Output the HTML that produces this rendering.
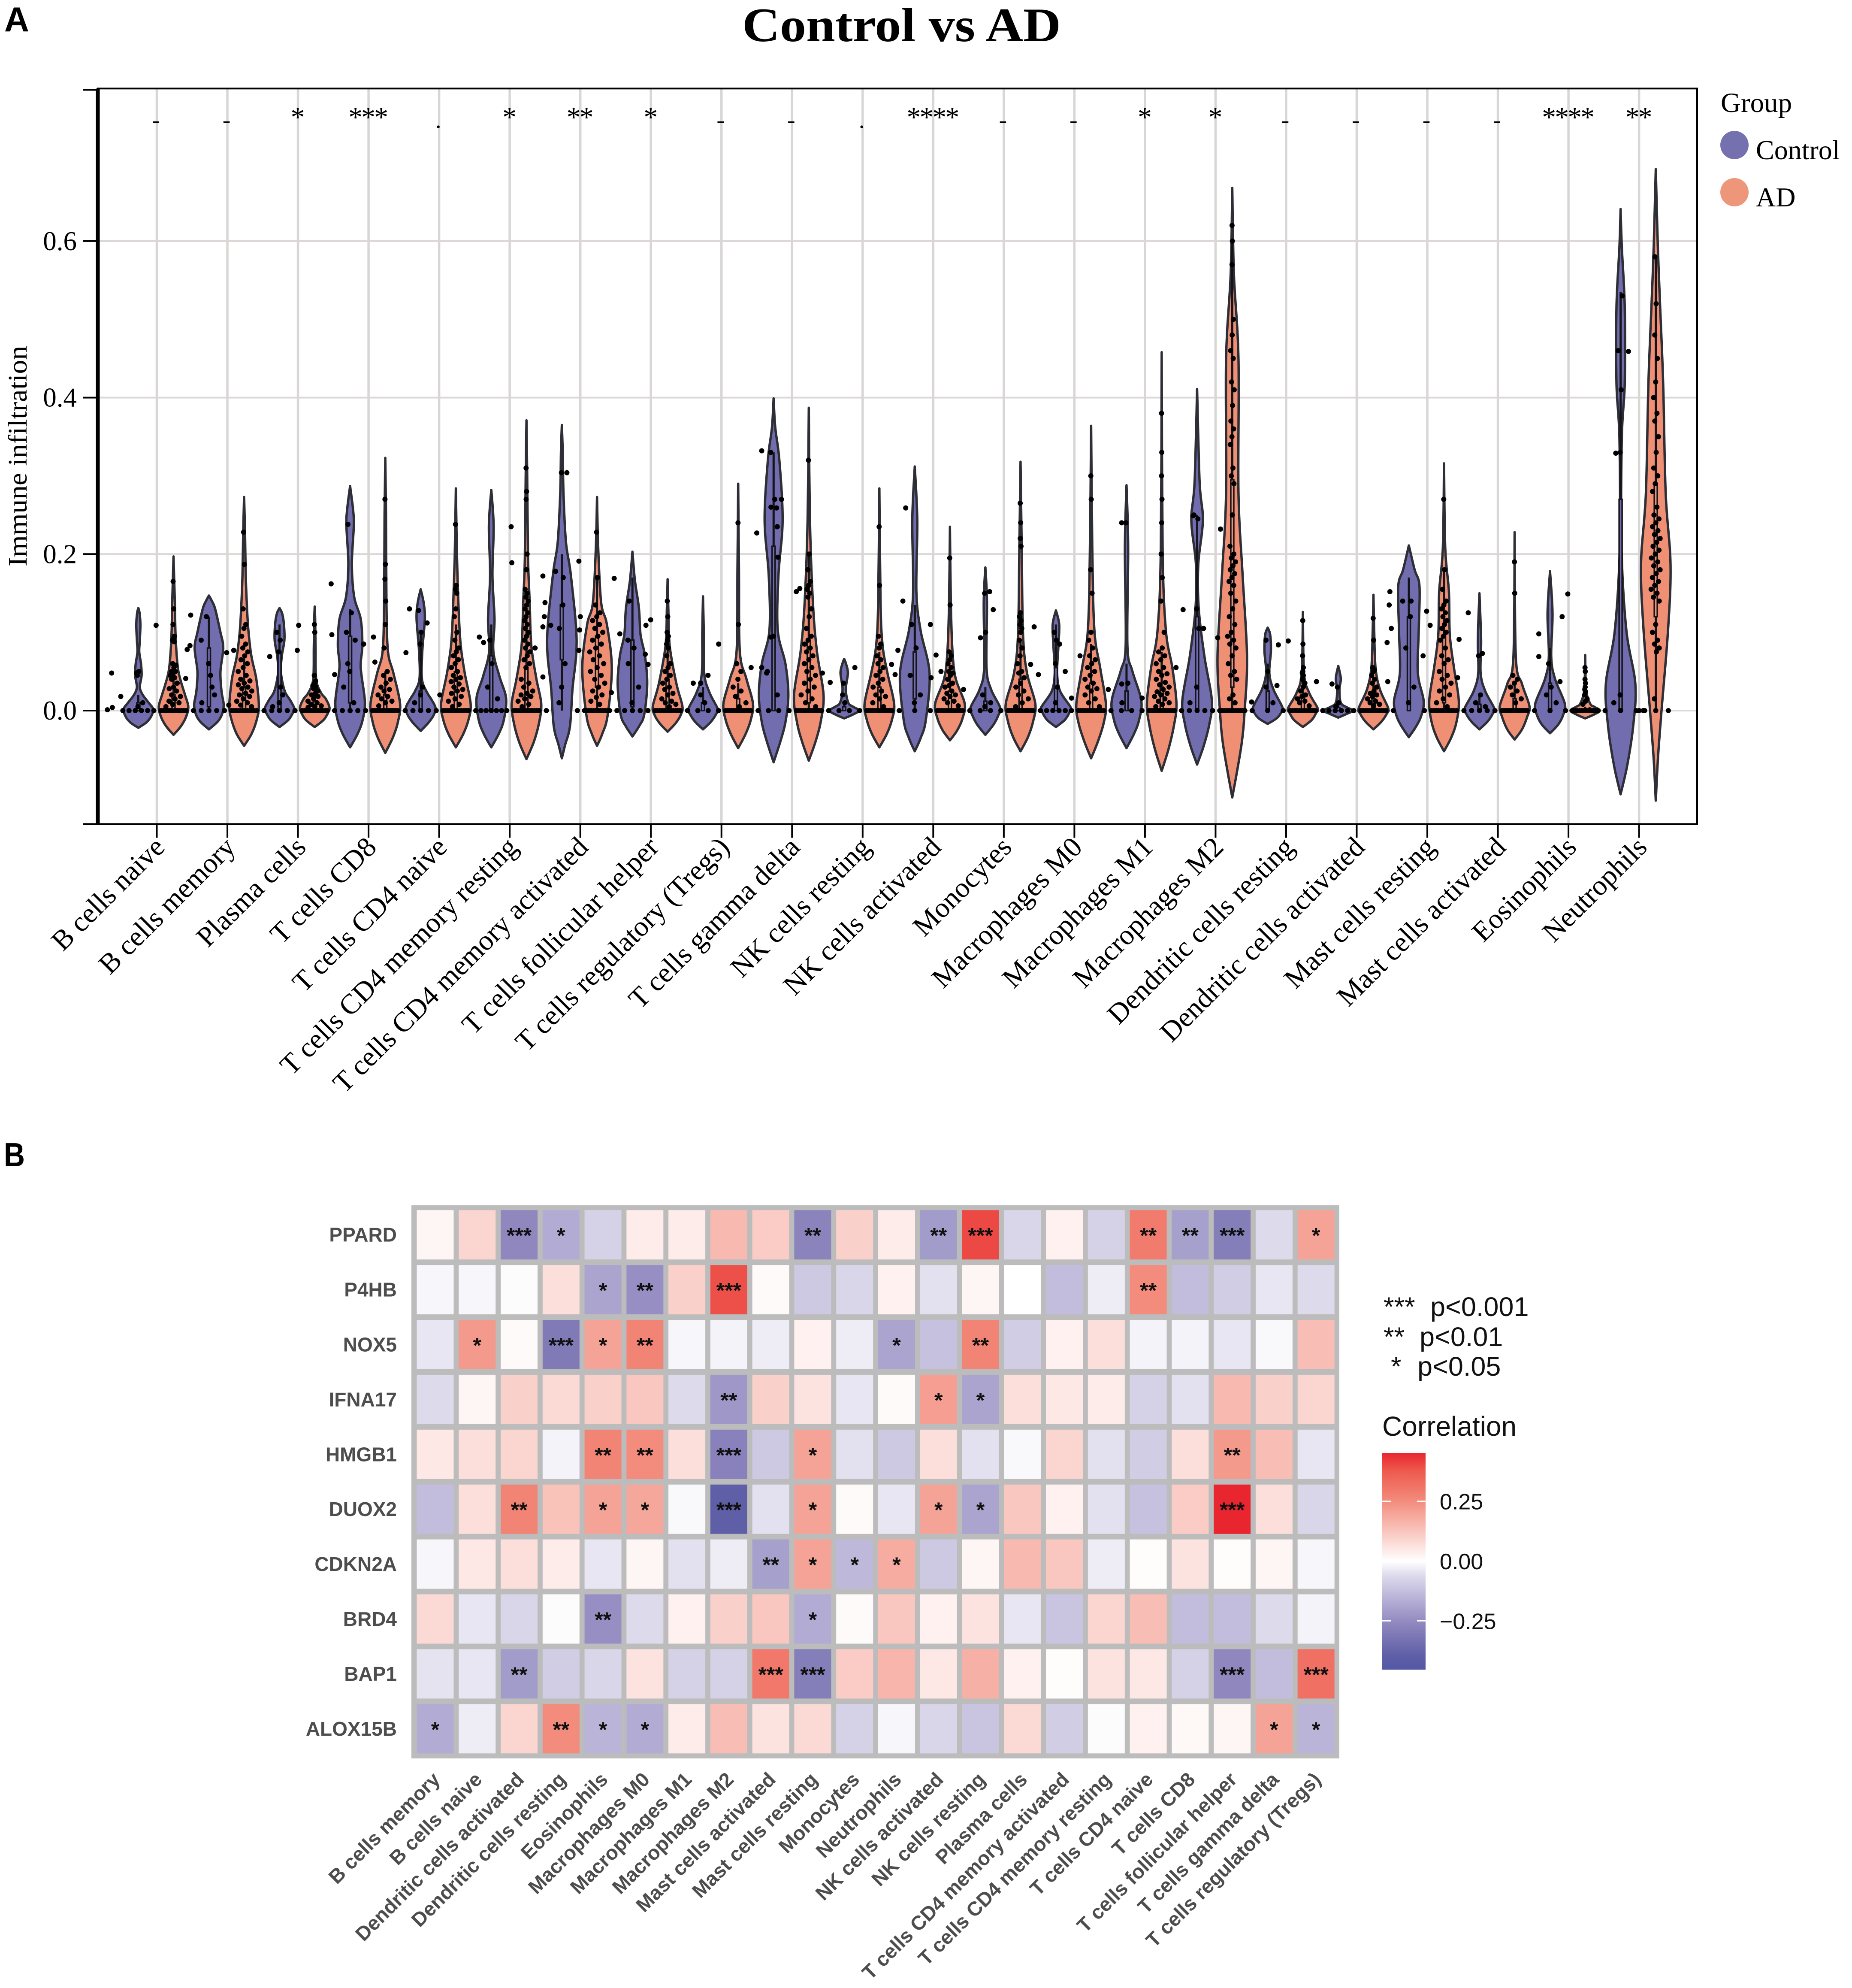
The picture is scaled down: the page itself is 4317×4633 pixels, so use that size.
<!DOCTYPE html>
<html lang="en">
<head>
<meta charset="utf-8">
<title>Control vs AD immune infiltration and correlation heatmap</title>
<style>
html,body{margin:0;padding:0;background:#fff;}
svg{display:block;}
.serif{font-family:"Liberation Serif",serif;}
.sans{font-family:"Liberation Sans",sans-serif;}
</style>
</head>
<body>
<svg id="figure" xmlns="http://www.w3.org/2000/svg" width="4317" height="4633" viewBox="0 0 4317 4633">
  <defs>
    <linearGradient id="corrGradient" x1="0" y1="1" x2="0" y2="0"></linearGradient>
  </defs>
  <rect x="0" y="0" width="4317" height="4633" fill="#ffffff"/>
  <text class="sans" x="10" y="73" font-size="81" font-weight="bold" textLength="58" lengthAdjust="spacingAndGlyphs">A</text>
  <text class="serif" x="1730" y="96" font-size="112" font-weight="bold" textLength="743" lengthAdjust="spacingAndGlyphs">Control vs AD</text>
  <g id="violinPanel"></g>
  <text class="serif" transform="translate(62,1063) rotate(-90)" text-anchor="middle" font-size="62" textLength="514" lengthAdjust="spacingAndGlyphs">Immune infiltration</text>
  <g class="serif">
    <text x="4011" y="261" font-size="65">Group</text>
    <circle cx="4043" cy="338" r="33" fill="#7571ae"/>
    <text x="4093" y="371" font-size="64">Control</text>
    <circle cx="4043" cy="448" r="33" fill="#ee967a"/>
    <text x="4093" y="481" font-size="64">AD</text>
  </g>
  <text class="sans" x="9" y="2718" font-size="78" font-weight="bold" textLength="49" lengthAdjust="spacingAndGlyphs">B</text>
  <g id="heatPanel"></g>
  <g class="sans" font-size="63" fill="#111">
    <text x="3225" y="3067">***</text>
    <text x="3334" y="3067">p&lt;0.001</text>
    <text x="3225" y="3137">**</text>
    <text x="3309" y="3137">p&lt;0.01</text>
    <text x="3242" y="3206">*</text>
    <text x="3304" y="3206">p&lt;0.05</text>
  </g>
  <g class="sans" fill="#111">
    <text x="3222" y="3346" font-size="64">Correlation</text>
    <rect x="3222" y="3386" width="101" height="505" fill="url(#corrGradient)"/>
    <g id="colorbarTicks"></g>
  </g>
</svg>
<script>
/* ---------- Panel A data ---------- */
const categories = ["B cells naive","B cells memory","Plasma cells","T cells CD8","T cells CD4 naive","T cells CD4 memory resting","T cells CD4 memory activated","T cells follicular helper","T cells regulatory (Tregs)","T cells gamma delta","NK cells resting","NK cells activated","Monocytes","Macrophages M0","Macrophages M1","Macrophages M2","Dendritic cells resting","Dendritic cells activated","Mast cells resting","Mast cells activated","Eosinophils","Neutrophils"];
const significance = ["-","-","*","***",".","*","**","*","-","-",".","****","-","-","*","*","-","-","-","-","****","**"];
const yTickValues = [-0.145,0,0.2,0.4,0.6,0.795];
const yTickLabels = ["","0.0","0.2","0.4","0.6",""];

/* density profiles: [immune infiltration, relative width] */
const densityControl = [
[[-.022,0],[-.015,.55],[-.007,.88],[.002,1],[.01,.7],[.02,.3],[.03,.1],[.045,.22],[.06,.18],[.075,.06],[.09,.1],[.11,.14],[.125,.08],[.131,0]],
[[-.024,0],[-.014,.6],[-.004,.9],[.008,1],[.025,.85],[.05,.78],[.08,.97],[.1,.78],[.13,.42],[.14,.2],[.147,0]],
[[-.021,0],[-.012,.6],[-.003,.9],[.003,1],[.014,.7],[.025,.35],[.048,.1],[.069,.15],[.09,.33],[.11,.3],[.124,.18],[.131,0]],
[[-.047,0],[-.03,.5],[-.012,.85],[.012,1],[.055,.72],[.083,.83],[.117,.72],[.145,.28],[.187,.12],[.236,.25],[.257,.2],[.287,0]],
[[-.026,0],[-.015,.55],[-.005,.9],[.004,1],[.015,.7],[.025,.38],[.041,.08],[.076,.11],[.117,.28],[.138,.2],[.155,0]],
[[-.047,0],[-.03,.5],[-.012,.85],[.016,1],[.044,.55],[.076,.14],[.117,.22],[.173,.08],[.236,.16],[.282,0]],
[[-.061,0],[-.044,.22],[-.02,.55],[.027,.72],[.09,1],[.173,.61],[.215,.28],[.278,.11],[.33,.06],[.365,0]],
[[-.033,0],[-.02,.45],[-.005,.8],[.034,1],[.07,.85],[.097,.55],[.131,.44],[.166,.17],[.203,0]],
[[-.024,0],[-.014,.55],[-.004,.9],[.002,1],[.023,.44],[.048,.08],[.1,.05],[.146,0]],
[[-.066,0],[-.04,.45],[-.015,.8],[.02,1],[.06,.8],[.103,.28],[.173,.33],[.243,.61],[.32,.39],[.362,.11],[.399,0]],
[[-.01,0],[-.005,.6],[0,1],[.005,.6],[.01,.28],[.027,.11],[.048,.25],[.06,.12],[.066,0]],
[[-.052,0],[-.035,.4],[-.012,.75],[.048,1],[.103,.39],[.152,.11],[.243,.17],[.312,0]],
[[-.031,0],[-.018,.55],[-.006,.88],[.004,1],[.027,.39],[.055,.08],[.138,.11],[.183,0]],
[[-.021,0],[-.012,.6],[-.003,.9],[.004,1],[.025,.28],[.048,.08],[.083,.17],[.11,.22],[.128,0]],
[[-.048,0],[-.03,.5],[-.012,.85],[.013,1],[.051,.39],[.083,.06],[.208,.11],[.288,0]],
[[-.069,0],[-.045,.45],[-.018,.82],[.013,1],[.069,.5],[.131,.11],[.187,.08],[.243,.39],[.292,.17],[.411,0]],
[[-.017,0],[-.01,.6],[-.003,.9],[.004,1],[.027,.39],[.048,.11],[.076,.22],[.097,.17],[.106,0]],
[[-.009,0],[-.004,.6],[0,1],[.004,.6],[.01,.17],[.027,.08],[.041,.17],[.057,0]],
[[-.034,0],[-.02,.5],[-.006,.85],[.013,1],[.048,.61],[.103,.67],[.159,.72],[.18,.39],[.211,0]],
[[-.024,0],[-.014,.55],[-.004,.9],[.003,1],[.025,.39],[.048,.08],[.09,.11],[.15,0]],
[[-.029,0],[-.018,.55],[-.006,.88],[.009,1],[.041,.33],[.069,.08],[.124,.17],[.178,0]],
[[-.107,0],[-.07,.45],[-.02,.85],[.034,1],[.103,.39],[.208,.06],[.348,.08],[.418,.28],[.516,.28],[.593,.08],[.641,0]]
];
const densityAD = [
[[-.031,0],[-.02,.5],[-.008,.85],[.005,1],[.02,.78],[.034,.55],[.05,.33],[.069,.22],[.1,.13],[.138,.09],[.17,.04],[.197,0]],
[[-.045,0],[-.03,.5],[-.012,.85],[.006,1],[.04,.83],[.069,.5],[.1,.3],[.13,.2],[.173,.11],[.23,.06],[.273,0]],
[[-.021,0],[-.012,.6],[-.003,.9],[.004,1],[.015,.75],[.023,.42],[.04,.1],[.08,.06],[.117,.03],[.133,0]],
[[-.054,0],[-.035,.5],[-.015,.85],[.009,1],[.048,.55],[.076,.18],[.138,.08],[.25,.05],[.323,0]],
[[-.047,0],[-.03,.5],[-.012,.85],[.009,1],[.048,.6],[.083,.33],[.124,.2],[.194,.08],[.284,0]],
[[-.062,0],[-.04,.5],[-.016,.85],[.009,1],[.041,.67],[.083,.33],[.138,.22],[.194,.11],[.3,.05],[.371,0]],
[[-.045,0],[-.03,.35],[-.006,.72],[.055,1],[.11,.67],[.138,.28],[.208,.08],[.273,0]],
[[-.027,0],[-.016,.55],[-.005,.9],[.006,1],[.034,.6],[.083,.14],[.13,.05],[.168,0]],
[[-.048,0],[-.03,.5],[-.012,.85],[.009,1],[.041,.55],[.076,.11],[.18,.05],[.29,0]],
[[-.064,0],[-.04,.45],[-.015,.8],[.02,1],[.076,.55],[.138,.28],[.243,.08],[.387,0]],
[[-.047,0],[-.03,.5],[-.012,.85],[.009,1],[.048,.55],[.083,.22],[.138,.08],[.284,0]],
[[-.038,0],[-.025,.5],[-.01,.85],[.009,1],[.041,.39],[.076,.17],[.138,.06],[.235,0]],
[[-.052,0],[-.034,.5],[-.014,.85],[.009,1],[.048,.44],[.097,.17],[.208,.08],[.318,0]],
[[-.061,0],[-.04,.45],[-.016,.85],[.009,1],[.055,.61],[.103,.22],[.208,.08],[.364,0]],
[[-.077,0],[-.05,.45],[-.02,.82],[.009,1],[.055,.72],[.103,.28],[.208,.06],[.458,0]],
[[-.111,0],[-.08,.3],[-.04,.65],[-.002,.83],[.069,1],[.173,.7],[.278,.42],[.45,.42],[.558,.11],[.668,0]],
[[-.021,0],[-.012,.6],[-.003,.9],[.003,1],[.023,.42],[.048,.08],[.126,0]],
[[-.024,0],[-.014,.55],[-.004,.9],[.003,1],[.027,.44],[.055,.14],[.103,.05],[.148,0]],
[[-.052,0],[-.034,.5],[-.014,.85],[.013,1],[.055,.67],[.097,.39],[.152,.33],[.208,.08],[.316,0]],
[[-.037,0],[-.024,.5],[-.008,.85],[.006,1],[.034,.5],[.069,.08],[.228,0]],
[[-.01,0],[-.005,.6],[0,1],[.005,.6],[.009,.33],[.027,.06],[.071,0]],
[[-.115,0],[-.06,.15],[0,.39],[.103,.83],[.187,1],[.278,.67],[.418,.5],[.523,.28],[.593,.14],[.692,0]]
];
/* box summaries: [q1, q3, upper whisker] */
const boxControl = [[0,.01,.02],[.005,.08,.12],[0,.075,.11],[.01,.095,.13],[0,.025,.1],[0,.07,.11],[.065,.135,.2],[.005,.09,.17],[0,.01,.03],[0,.21,.33],[0,.005,.01],[.015,.075,.135],[0,.012,.03],[0,.055,.11],[0,.025,.06],[0,.12,.25],[0,.025,.06],[0,.004,.01],[0,.12,.17],[0,.008,.02],[0,.035,.08],[0,.27,.535]];
const boxAD = [[0,.02,.05],[0,.03,.07],[0,.012,.03],[0,.02,.05],[0,.05,.11],[0,.055,.13],[.03,.095,.17],[0,.04,.09],[0,.015,.035],[.01,.09,.2],[0,.03,.075],[0,.025,.055],[0,.04,.09],[0,.035,.085],[0,.03,.075],[.03,.295,.6],[0,.02,.05],[0,.015,.04],[.01,.095,.18],[0,.015,.035],[0,.002,.005],[.12,.29,.58]];
/* samples read above zero, per violin */
const samplesControl = [
[.048,.05,.045,.01,.005],[.09,.045,.12,.02,.06,.01,.03],[.1,.09,.075,.02,.01,.005,.03],[.238,.125,.1,.09,.05,.03,.01,.06],[.128,.1,.085,.03,.02,.01],[.09,.06,.03,.015],[.304,.135,.105,.06,.03,.01,.17],[.14,.08,.06,.03,.01,.09],[.035,.01,.02],[.33,.27,.26,.235,.095,.05,.02],[.02,.01,.035],[.11,.08,.045,.02,.01],[.15,.1,.02,.01,.005],[.1,.09,.06,.03,.01],[.24,.035,.01],[.25,.245,.13,.105,.03,.01],[.09,.05,.03,.01],[.03,.01,.005],[.14,.12,.08,.03,.01],[.07,.02,.01,.005],[.06,.03,.02,.01],[.46,.41,.33,.53,.02,.01]
];
const samplesAD = [
[.165,.13,.11,.095,.092,.09,.088,.06,.058,.055,.05,.05,.047,.045,.042,.04,.035,.03,.028,.025,.02,.018,.015,.012,.01,.008,.005],
[.228,.187,.13,.11,.105,.095,.085,.08,.075,.07,.065,.06,.055,.05,.045,.04,.038,.035,.033,.03,.028,.025,.022,.02,.018,.015,.012,.01,.007,.005],
[.11,.1,.045,.038,.035,.032,.03,.028,.025,.022,.02,.018,.015,.012,.01,.008,.006,.005,.004],
[.27,.187,.168,.14,.11,.08,.05,.045,.04,.035,.03,.027,.025,.02,.018,.015,.012,.01,.006],
[.238,.16,.155,.15,.13,.12,.1,.09,.08,.075,.07,.065,.06,.055,.05,.045,.042,.04,.037,.034,.03,.027,.025,.022,.018,.015,.012,.008,.005],
[.31,.28,.27,.2,.18,.155,.15,.145,.14,.135,.13,.125,.12,.115,.11,.105,.1,.095,.09,.085,.08,.075,.07,.065,.06,.055,.04,.035,.03,.025,.022,.02,.018,.015,.012,.008,.005],
[.228,.17,.135,.125,.12,.115,.11,.105,.1,.095,.09,.085,.08,.075,.07,.065,.06,.055,.05,.045,.04,.035,.03,.025,.02,.017,.012,.008],
[.14,.12,.1,.095,.09,.085,.08,.07,.06,.055,.05,.045,.04,.035,.03,.027,.022,.02,.015,.012,.01,.008,.005],
[.24,.11,.06,.05,.04,.03,.025,.018,.01,.005],
[.32,.2,.18,.165,.16,.155,.15,.145,.13,.12,.105,.095,.09,.085,.08,.075,.07,.065,.06,.055,.05,.045,.04,.035,.03,.025,.02,.015,.01,.005],
[.235,.16,.095,.085,.08,.07,.065,.06,.055,.05,.045,.04,.035,.03,.025,.02,.018,.015,.01,.005],
[.195,.135,.075,.07,.065,.06,.055,.05,.048,.045,.04,.035,.032,.03,.025,.022,.02,.018,.015,.012,.01,.006],
[.265,.24,.22,.21,.125,.12,.115,.11,.105,.1,.09,.08,.07,.06,.05,.048,.042,.035,.03,.025,.02,.015,.01,.005],
[.3,.27,.18,.15,.1,.09,.08,.07,.065,.06,.055,.05,.045,.04,.035,.03,.028,.025,.02,.015,.01,.005],
[.38,.33,.3,.27,.24,.2,.17,.14,.1,.08,.075,.07,.065,.06,.055,.05,.047,.045,.04,.036,.033,.03,.027,.024,.022,.02,.018,.015,.012,.01,.008,.005],
[.62,.6,.57,.5,.48,.46,.45,.42,.41,.39,.37,.36,.35,.34,.31,.3,.29,.25,.21,.2,.195,.19,.185,.18,.175,.17,.165,.16,.15,.14,.13,.12,.11,.1,.095,.09,.085,.08,.07,.06,.05,.045,.04,.02,.015,.01],
[.115,.085,.07,.055,.05,.048,.045,.04,.035,.03,.025,.02,.018,.015,.012,.01,.006],
[.118,.09,.055,.052,.05,.045,.04,.035,.03,.025,.022,.02,.018,.015,.012,.01,.008,.006],
[.27,.18,.155,.14,.135,.13,.125,.12,.115,.11,.105,.1,.095,.09,.08,.07,.065,.06,.05,.045,.04,.035,.03,.025,.02,.015,.01,.005],
[.19,.15,.045,.04,.035,.03,.025,.02,.015,.01],
[.055,.05,.04,.035,.03,.027,.024,.02,.015,.012,.008],
[.58,.52,.48,.45,.42,.4,.38,.37,.35,.33,.31,.3,.29,.28,.26,.25,.245,.24,.235,.23,.225,.22,.215,.21,.205,.2,.195,.19,.185,.18,.175,.17,.165,.16,.155,.15,.145,.14,.11,.1,.09,.085,.08,.075,.015]
];
/* how many samples sit at exactly zero */
const zeroCountControl = [6,5,5,5,5,7,2,5,4,4,4,3,4,6,4,5,3,6,2,5,3,3];
const zeroCountAD = [12,12,12,14,12,12,12,12,14,12,14,12,14,12,14,12,12,12,12,14,12,3];
/* far-jittered samples: [category position, value] */
const strayPoints = [[-.7,.001],[-.63,.004],[-.64,.048],[-.51,.018],[-.01,.109],[.48,.122],[.47,.083],[.43,.078],[.41,.041],[.99,.074],[1.09,.077],[1.02,.007],[1.6,.069],[1.99,.077],[2.01,.109],[2.47,.162],[2.48,.097],[2.52,.046],[2.93,.085],[3.07,.094],[3.09,.062],[3.53,.074],[3.58,.13],[3.83,.112],[4.01,.02],[4.57,.094],[4.63,.087],[5.02,.235],[5.03,.189],[5.47,.172],[5.5,.138],[5.49,.12],[5.47,.107],[5.58,.109],[5.65,.178],[5.81,.304],[5.98,.191],[6,.12],[5.99,.103],[5.98,.077],[5.47,.043],[5.36,.08],[6.48,.169],[6.56,.098],[6.44,.023],[6.997,.116],[6.93,.109],[6.92,.072],[6.96,.059],[7.6,.035],[7.81,.045],[7.96,.085],[8.42,.055],[8.57,.055],[8.5,.227],[8.57,.332],[8.85,.27],[8.78,.259],[8.79,.235],[8.8,.196],[8.7,.094],[8.64,.048],[9.06,.152],[9.11,.156],[9.43,.048],[9.54,.036],[9.89,.055],[10.41,.059],[10.46,.046],[10.5,.077],[10.57,.14],[10.61,.259],[10.96,.11],[11.04,.071],[11.11,.05],[10.97,.042],[11.43,.027],[11.67,.093],[11.8,.152],[11.85,.129],[12.43,.107],[12.38,.059],[12.49,.046],[12.79,.085],[12.87,.05],[12.96,.016],[13.08,.07],[13.48,.027],[13.67,.24],[13.67,.034],[13.96,.016],[14.44,.055],[14.54,.129],[14.68,.249],[14.83,.105],[15.07,.232],[15.03,.093],[15.51,.011],[15.89,.084],[15.87,.032],[16.03,.089],[16.43,.037],[16.65,.034],[17.47,.152],[17.46,.135],[17.49,.105],[17.43,.087],[17.44,.037],[17.77,.14],[17.99,.127],[18.04,.109],[17.94,.07],[18.45,.091],[18.43,.042],[18.58,.125],[18.78,.073],[19.58,.098],[19.58,.069],[19.99,.149],[19.91,.12],[19.88,.037],[20.85,.459],[20.67,.329],[21,0],[21.08,0],[20.3,.001]];

/* ---------- Panel B data ---------- */
const heatRows = ["PPARD","P4HB","NOX5","IFNA17","HMGB1","DUOX2","CDKN2A","BRD4","BAP1","ALOX15B"];
const heatCols = ["B cells memory","B cells naive","Dendritic cells activated","Dendritic cells resting","Eosinophils","Macrophages M0","Macrophages M1","Macrophages M2","Mast cells activated","Mast cells resting","Monocytes","Neutrophils","NK cells activated","NK cells resting","Plasma cells","T cells CD4 memory activated","T cells CD4 memory resting","T cells CD4 naive","T cells CD8","T cells follicular helper","T cells gamma delta","T cells regulatory (Tregs)"];
const corrPPARD  = [.02,.09,-.26,-.17,-.08,.04,.04,.15,.11,-.27,.1,.04,-.21,.4,-.07,.03,-.08,.29,-.2,-.29,-.06,.2];
const corrP4HB   = [-.015,-.015,-.005,.07,-.19,-.24,.1,.39,.01,-.1,-.07,.03,-.05,.02,0,-.13,-.03,.25,-.13,-.09,-.04,-.06];
const corrNOX5   = [-.04,.22,.01,-.3,.2,.27,-.015,-.02,-.03,.03,-.03,-.19,-.12,.27,-.09,.03,.07,-.02,-.02,-.04,-.01,.14];
const corrIFNA17 = [-.06,.02,.1,.08,.1,.12,-.06,-.22,.1,.06,-.04,.01,.21,-.19,.07,.05,.04,-.08,-.05,.15,.1,.09];
const corrHMGB1  = [.05,.07,.09,-.02,.27,.25,.07,-.28,-.1,.2,-.05,-.1,.07,-.05,-.01,.09,-.05,-.09,.07,.22,.14,-.04];
const corrDUOX2  = [-.13,.07,.27,.13,.2,.19,-.01,-.39,-.05,.2,.01,-.04,.2,-.19,.12,.03,-.05,-.12,.11,.45,.07,-.07];
const corrCDKN2A = [-.015,.05,.07,.04,-.04,.02,-.05,-.03,-.2,.2,-.14,.18,-.1,.02,.15,.12,-.03,.005,.06,.005,.02,-.015];
const corrBRD4   = [.08,-.04,-.07,-.005,-.24,-.06,.03,.1,.12,-.17,.01,.12,.03,.06,-.04,-.11,.09,.14,-.13,-.13,-.06,-.02];
const corrBAP1   = [-.045,-.04,-.21,-.09,-.07,.06,-.08,-.08,.3,-.29,.11,.16,.05,.17,.03,.005,.06,.05,-.08,-.26,-.13,.32];
const corrALOX15B= [-.17,-.03,.09,.25,-.15,-.17,.04,.14,.06,.08,-.08,-.015,-.07,-.11,.08,-.09,-.005,.03,.015,.02,.2,-.15];
const heatValues = [corrPPARD,corrP4HB,corrNOX5,corrIFNA17,corrHMGB1,corrDUOX2,corrCDKN2A,corrBRD4,corrBAP1,corrALOX15B];
const heatStars = [
["","","***","*","","","","","","**","","","**","***","","","","**","**","***","","*"],
["","","","","*","**","","***","","","","","","","","","","**","","","",""],
["","*","","***","*","**","","","","","","*","","**","","","","","","","",""],
["","","","","","","","**","","","","","*","*","","","","","","","",""],
["","","","","**","**","","***","","*","","","","","","","","","","**","",""],
["","","**","","*","*","","***","","*","","","*","*","","","","","","***","",""],
["","","","","","","","","**","*","*","*","","","","","","","","","",""],
["","","","","**","","","","","*","","","","","","","","","","","",""],
["","","**","","","","","","***","***","","","","","","","","","","***","","***"],
["*","","","**","*","*","","","","","","","","","","","","","","","*","*"]
];
const colorScaleValues = [-.45,-.39,-.26,-.17,-.06,0,.125,.25,.375,.45];
const colorScaleColors = [[84,88,165],[95,95,168],[143,135,190],[178,172,212],[221,218,236],[255,255,255],[249,197,189],[243,140,125],[238,90,78],[233,38,48]];
const colorbarTickValues = [.25,0,-.25];
const colorbarTickLabels = ["0.25","0.00","\u22120.25"];

/* ---------- helpers ---------- */
const NS = "http://www.w3.org/2000/svg";
function make(tag, attrs, parent, text) {
  const el = document.createElementNS(NS, tag);
  for (const k in attrs) el.setAttribute(k, attrs[k]);
  if (text !== undefined) el.textContent = text;
  parent.appendChild(el);
  return el;
}
const yA = v => 1656 - 1823.5 * v;
const xA = c => 365.5 + 164.53 * c;
const PANEL = {left: 228, right: 3956, top: yA(0.795), bottom: yA(-0.145)};
const HALF = 34.4;
const OFFSET = {control: -43, ad: 39};
const FILL = {control: "#716dae", ad: "#ef9075"};
const DOT_R = 6;

function widthAt(profile, v) {
  for (let i = 1; i < profile.length; i++) {
    if (v <= profile[i][0]) {
      const a = profile[i-1], b = profile[i];
      return a[1] + (b[1]-a[1]) * (v-a[0]) / (b[0]-a[0]);
    }
  }
  return 0;
}
function peakValue(profile) {
  return profile.reduce((m, p) => p[1] > m[1] ? p : m, profile[0])[0];
}
function violinPath(profile, cx) {
  const right = profile.map(p => [cx + p[1]*HALF, yA(p[0])]);
  const left = profile.slice().reverse().map(p => [cx - p[1]*HALF, yA(p[0])]);
  function seg(pts) {
    let d = "";
    for (let i = 0; i < pts.length-1; i++) {
      const p0 = pts[Math.max(i-1,0)], p1 = pts[i], p2 = pts[i+1], p3 = pts[Math.min(i+2,pts.length-1)];
      let c1x = p1[0]+(p2[0]-p0[0])/6, c1y = p1[1]+(p2[1]-p0[1])/6;
      let c2x = p2[0]-(p3[0]-p1[0])/6, c2y = p2[1]-(p3[1]-p1[1])/6;
      if (cx > p1[0] || cx > p2[0]) { c1x = Math.min(c1x,cx); c2x = Math.min(c2x,cx); }
      else { c1x = Math.max(c1x,cx); c2x = Math.max(c2x,cx); }
      d += "C"+c1x.toFixed(1)+" "+c1y.toFixed(1)+" "+c2x.toFixed(1)+" "+c2y.toFixed(1)+" "+p2[0].toFixed(1)+" "+p2[1].toFixed(1);
    }
    return d;
  }
  return "M"+right[0][0].toFixed(1)+" "+right[0][1].toFixed(1)+seg(right)+seg(left)+"Z";
}

/* ---------- Panel A ---------- */
const violinPanel = document.getElementById("violinPanel");
const gridLayer = make("g", {}, violinPanel);


const markLayer = make("g", {}, violinPanel);


const dotLayer = make("g", {fill: "#000"}, violinPanel);


const axisLayer = make("g", {}, violinPanel);



yTickValues.forEach((v, i) => {
  if (yTickLabels[i]) {
    const line = make("line", {x1: PANEL.left, x2: PANEL.right, y1: yA(v), y2: yA(v), stroke: "#dcd6d6", "stroke-width": 4}, gridLayer);
    
    
    const label = make("text", {x: 179, y: yA(v) + 21, "text-anchor": "end", "font-size": 63, "class": "serif"}, axisLayer, yTickLabels[i]);
    
    
  }
  const tick = make("line", {x1: 193, x2: PANEL.left, y1: yA(v) + (i === 5 ? 3 : 0), y2: yA(v) + (i === 5 ? 3 : 0), stroke: "#000", "stroke-width": 4}, axisLayer);
  
  
});

categories.forEach((name, i) => {
  const x = xA(i);
  const grid = make("line", {x1: x, x2: x, y1: PANEL.top, y2: PANEL.bottom, stroke: "#d9d6d6", "stroke-width": 5.5}, gridLayer);
  
  
  const tick = make("line", {x1: x, x2: x, y1: PANEL.bottom, y2: PANEL.bottom + 32, stroke: "#000", "stroke-width": 4}, axisLayer);
  
  
  const label = make("text", {transform: "translate(" + (x + 22) + ",1978) rotate(-45)", "text-anchor": "end", "font-size": 66, "class": "serif"}, axisLayer, name);
  
  
  const isStars = significance[i].indexOf("*") >= 0;
  const sig = make("text", {x: x - 2, y: isStars ? 295 : 298, "text-anchor": "middle", "font-size": isStars ? 66 : 56, "letter-spacing": isStars ? -3 : 0, "class": "serif"}, axisLayer, significance[i]);
  
  

  [["control", densityControl[i], boxControl[i], samplesControl[i], zeroCountControl[i]],
   ["ad", densityAD[i], boxAD[i], samplesAD[i], zeroCountAD[i]]].forEach(([group, profile, box, samples, zeros]) => {
    const cx = x + OFFSET[group];
    const violin = make("path", {d: violinPath(profile, cx), fill: FILL[group], stroke: "#2e2e36", "stroke-width": 5.5, "stroke-linejoin": "round"}, markLayer);
    
    
    const whiskerUp = make("line", {x1: cx, x2: cx, y1: yA(box[1]), y2: yA(box[2]), stroke: "#14141a", "stroke-width": 5}, markLayer);
    
    
    if (box[0] > 0) {
      const whiskerDown = make("line", {x1: cx, x2: cx, y1: yA(0), y2: yA(box[0]), stroke: "#14141a", "stroke-width": 5}, markLayer);
      
      
    }
    const boxRect = make("rect", {x: cx - 3.5, y: yA(box[1]), width: 7, height: Math.max(1, yA(box[0]) - yA(box[1])), fill: FILL[group], stroke: "#14141a", "stroke-width": 3.5}, markLayer);
    
    
    const spreadFactor = peakValue(profile) > 0.06 ? 0.35 : 0.6;
    samples.forEach((v, k) => {
      const spread = ((k * 0.618034) % 1) * 2 - 1;
      const dot = make("circle", {cx: cx + spread * widthAt(profile, v) * HALF * spreadFactor, cy: yA(v), r: DOT_R}, dotLayer);
      
      
    });
    for (let k = 0; k < zeros; k++) {
      const t = zeros > 1 ? k / (zeros - 1) * 2 - 1 : 0;
      const reach = group === "ad" ? HALF * 0.85 : HALF * 1.05;
      const dot = make("circle", {cx: cx + t * reach, cy: yA(0), r: DOT_R}, dotLayer);
      
      
    }
  });
});
strayPoints.forEach(p => {
  const dot = make("circle", {cx: xA(p[0]), cy: yA(p[1]), r: DOT_R}, dotLayer);
  
  
});
const frame = make("rect", {x: PANEL.left, y: PANEL.top, width: PANEL.right - PANEL.left, height: PANEL.bottom - PANEL.top, fill: "none", stroke: "#000", "stroke-width": 4}, axisLayer);


const yAxisLine = make("line", {x1: PANEL.left, x2: PANEL.left, y1: PANEL.top, y2: PANEL.bottom, stroke: "#000", "stroke-width": 9}, axisLayer);



/* ---------- Panel B ---------- */
const heatPanel = document.getElementById("heatPanel");
const colX = c => 1014.5 + 97.77 * c;
const rowY = r => 2877.7 + 127.9 * r;
function corrColor(v) {
  const t = Math.max(colorScaleValues[0], Math.min(colorScaleValues[colorScaleValues.length - 1], v));
  for (let i = 1; i < colorScaleValues.length; i++) {
    if (t <= colorScaleValues[i]) {
      const f = (t - colorScaleValues[i-1]) / (colorScaleValues[i] - colorScaleValues[i-1]);
      const c = colorScaleColors[i-1].map((a, j) => Math.round(a + (colorScaleColors[i][j] - a) * f));
      return "rgb(" + c.join(",") + ")";
    }
  }
  return "#fff";
}
const corrGradient = document.getElementById("corrGradient");
colorScaleValues.forEach(v => {
  make("stop", {offset: (v + 0.45) / 0.9, "stop-color": corrColor(v)}, corrGradient);
});
const heatBg = make("rect", {x: 959, y: 2809, width: 2163, height: 1289, fill: "#bcbcbc"}, heatPanel);


heatRows.forEach((rowName, r) => {
  const label = make("text", {x: 925, y: rowY(r) + 16, "text-anchor": "end", "font-size": 46, "font-weight": "bold", fill: "#4d4d4d", "class": "sans"}, heatPanel, rowName);
  
  
  heatCols.forEach((colName, c) => {
    const cell = make("rect", {x: colX(c) - 43, y: rowY(r) - 57.5, width: 86, height: 115, fill: corrColor(heatValues[r][c])}, heatPanel);
    
    
    if (heatStars[r][c]) {
      const star = make("text", {x: colX(c), y: rowY(r) + 19, "text-anchor": "middle", "font-size": 50, "font-weight": "bold", fill: "#111", "class": "sans"}, heatPanel, heatStars[r][c]);
      
      
    }
  });
});
heatCols.forEach((colName, c) => {
  const label = make("text", {transform: "translate(" + (colX(c) + 14) + ",4150) rotate(-45)", "text-anchor": "end", "font-size": 46.5, "font-weight": "bold", fill: "#4d4d4d", "class": "sans"}, heatPanel, colName);
  
  
});

/* ---------- Colorbar ticks ---------- */
const cbTicks = document.getElementById("colorbarTicks");
const cbY = v => 3638 - 557.2 * v;
colorbarTickValues.forEach((v, i) => {
  const t1 = make("line", {x1: 3222, x2: 3242, y1: cbY(v), y2: cbY(v), stroke: "#fff", "stroke-width": 3}, cbTicks);
  
  
  const t2 = make("line", {x1: 3303, x2: 3323, y1: cbY(v), y2: cbY(v), stroke: "#fff", "stroke-width": 3}, cbTicks);
  
  
  const label = make("text", {x: 3356, y: cbY(v) + 19, "font-size": 52}, cbTicks, colorbarTickLabels[i]);
  
  
});
</script>
</body>
</html>
